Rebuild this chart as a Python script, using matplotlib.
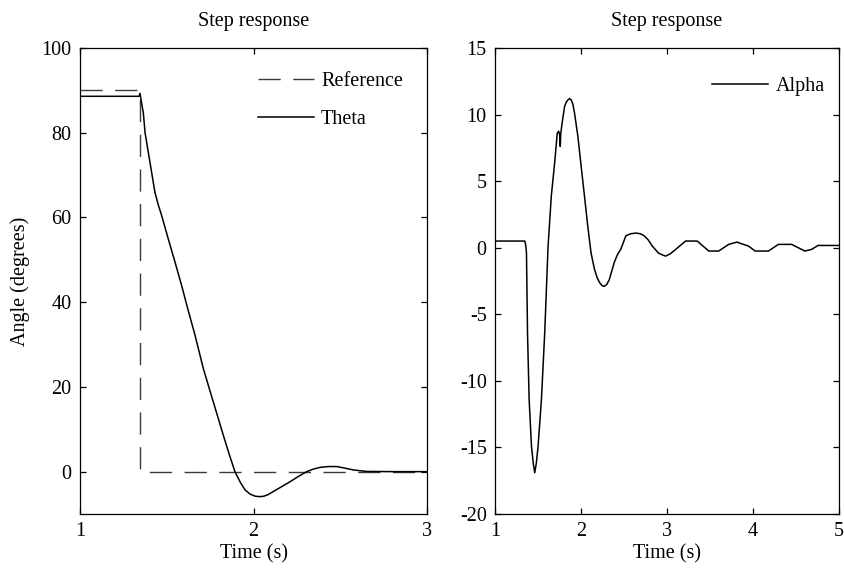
import matplotlib
matplotlib.use("Agg")
import matplotlib.pyplot as plt
import numpy as np

# ---- data ----
ref_t = [1.0, 1.346, 1.346, 3.0]
ref_v = [90.0, 90.0, 0.0, 0.0]

theta_t = [1.0, 1.340, 1.346, 1.355, 1.365, 1.375, 1.394, 1.413, 1.432, 1.451, 1.471,
           1.509, 1.548, 1.586, 1.624, 1.663, 1.711, 1.768, 1.826, 1.860, 1.893,
           1.925, 1.951, 1.980, 2.010, 2.037, 2.060, 2.085, 2.114, 2.160, 2.210,
           2.260, 2.307, 2.345, 2.383, 2.430, 2.480, 2.530, 2.575, 2.652, 2.800, 3.0]
theta_v = [88.6, 88.6, 89.3, 87.0, 84.7, 80.0, 75.3, 70.6, 65.9, 63.0, 60.4,
           54.9, 49.4, 43.9, 38.0, 32.2, 24.3, 16.5, 8.6, 4.1, 0.0,
           -2.6, -4.3, -5.3, -5.8, -5.9, -5.8, -5.4, -4.7, -3.6, -2.4,
           -1.1, 0.0, 0.6, 1.0, 1.2, 1.2, 0.8, 0.4, 0.05, 0.0, 0.0]

alpha_t = [1.0, 1.347, 1.357, 1.366, 1.378, 1.397, 1.424, 1.445, 1.462, 1.480, 1.501,
           1.540, 1.578, 1.617, 1.655, 1.694, 1.724, 1.740, 1.752, 1.759, 1.764,
           1.771, 1.790, 1.809, 1.830, 1.848, 1.868, 1.886, 1.905, 1.925, 1.963,
           2.002, 2.040, 2.079, 2.117, 2.156, 2.185, 2.214, 2.245, 2.272, 2.300,
           2.329, 2.387, 2.425, 2.464, 2.522, 2.580, 2.638, 2.690, 2.734, 2.780,
           2.830, 2.900, 2.950, 2.984, 3.040, 3.100, 3.216, 3.351, 3.486, 3.601,
           3.717, 3.813, 3.948, 4.025, 4.179, 4.295, 4.449, 4.603, 4.680, 4.757, 5.0]
alpha_v = [0.5, 0.5, 0.2, -0.4, -6.4, -11.4, -14.9, -16.2, -16.9, -16.2, -14.9,
           -11.4, -6.4, 0.1, 3.9, 6.4, 8.6, 8.75, 8.5, 7.6, 8.5,
           8.9, 9.8, 10.6, 10.95, 11.1, 11.2, 11.1, 10.8, 10.1, 8.4,
           6.1, 3.9, 1.6, -0.4, -1.6, -2.2, -2.6, -2.85, -2.9, -2.75,
           -2.4, -1.1, -0.5, -0.1, 0.9, 1.05, 1.1, 1.05, 0.9, 0.6,
           0.12, -0.4, -0.55, -0.63, -0.45, -0.13, 0.5, 0.5, -0.25, -0.25,
           0.25, 0.42, 0.12, -0.25, -0.25, 0.25, 0.25, -0.25, -0.13, 0.17, 0.17]

left_xticks = [1, 2, 3]
left_yticks = [0, 20, 40, 60, 80, 100]
right_xticks = [1, 2, 3, 4, 5]
right_yticks = [-20, -15, -10, -5, 0, 5, 10, 15]

# ---- style ----
plt.rcParams['font.family'] = ['Liberation Serif', 'DejaVu Serif']
plt.rcParams['font.size'] = 14.5
plt.rcParams['lines.scale_dashes'] = False
plt.rcParams['axes.linewidth'] = 0.9
plt.rcParams['axes.unicode_minus'] = False

W, H = 844, 571
fig = plt.figure(figsize=(W / 100, H / 100), dpi=100)

top_px, bot_px = 48, 514
axL = fig.add_axes([80 / W, 1 - bot_px / H, (427 - 80) / W, (bot_px - top_px) / H])
axR = fig.add_axes([495 / W, 1 - bot_px / H, (839 - 495) / W, (bot_px - top_px) / H])

def style(ax):
    ax.tick_params(direction='in', length=4, width=0.9, top=True, right=True,
                   labelsize=14.5, pad=6, colors='black')
    for s in ax.spines.values():
        s.set_color('black')

# Left panel
axL.plot(ref_t, ref_v, color='#3a3a3a', lw=1.0, dashes=(16, 9), label='Reference')
axL.plot(theta_t, theta_v, color='black', lw=1.1, label='Theta')
axL.set_xlim(1, 3)
axL.set_ylim(-10, 100)
axL.set_xticks(left_xticks)
axL.set_yticks(left_yticks)
axL.set_xlabel('Time (s)', labelpad=2)
axL.set_ylabel('Angle (degrees)', labelpad=8)
axL.set_title('Step response', pad=16, fontsize=14.5)
style(axL)
axL.legend(loc='upper right', frameon=False, handlelength=2.8, labelspacing=0.95,
           handletextpad=0.35, borderaxespad=0.8, fontsize=14.5)

# Right panel
axR.plot(alpha_t, alpha_v, color='black', lw=1.1, label='Alpha')
axR.set_xlim(1, 5)
axR.set_ylim(-20, 15)
axR.set_xticks(right_xticks)
axR.set_yticks(right_yticks)
axR.set_xlabel('Time (s)', labelpad=2)
axR.set_title('Step response', pad=16, fontsize=14.5)
style(axR)
axR.legend(loc='upper right', bbox_to_anchor=(1.028, 0.99), frameon=False,
           handlelength=2.8, handletextpad=0.35, borderaxespad=0.8, fontsize=14.5)

fig.savefig('out.png', dpi=100)
